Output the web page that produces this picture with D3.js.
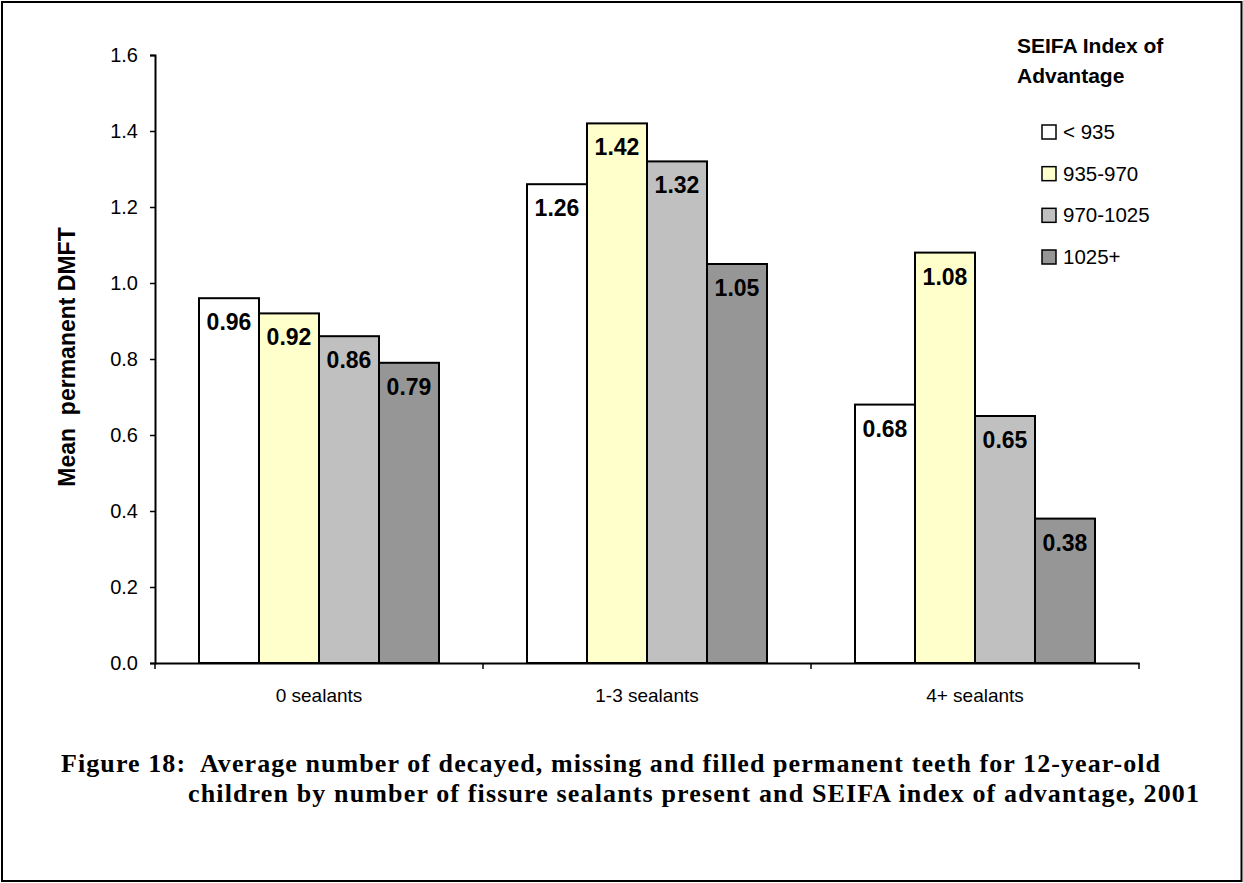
<!DOCTYPE html>
<html>
<head>
<meta charset="utf-8">
<script src="https://cdn.jsdelivr.net/npm/d3@7"></script>
<style>
  body { margin: 0; background: #fff; }
  svg { display: block; }
  text { font-family: Arial, "Liberation Sans", sans-serif; fill: #000; }
  .caption { font-family: "Liberation Serif", "Times New Roman", serif; font-weight: bold; font-size: 26px; }
</style>
</head>
<body>
<div id="chart"></div>
<script>
const categories = ['0 sealants', '1-3 sealants', '4+ sealants'];
const seriesNames = ['< 935', '935-970', '970-1025', '1025+'];
const seriesColors = ['#FFFFFF', '#FFFFCC', '#C0C0C0', '#969696'];
const under935 = [0.96, 1.26, 0.68];
const from935to970 = [0.92, 1.42, 1.08];
const from970to1025 = [0.86, 1.32, 0.65];
const over1025 = [0.79, 1.05, 0.38];
const yTicks = [0, 0.2, 0.4, 0.6, 0.8, 1.0, 1.2, 1.4, 1.6];

const seriesValues = [under935, from935to970, from970to1025, over1025];

const rows = [];
categories.forEach((c, i) => {
  seriesNames.forEach((s, j) => {
    rows.push({ category: c, series: s, value: seriesValues[j][i], color: seriesColors[j] });
  });
});

const width = 1243;
const height = 883;

const svg = d3
  .select('#chart')
  .append('svg')
  .attr('width', width)
  .attr('height', height);

// outer frame
svg
  .append('rect')
  .attr('x', 2)
  .attr('y', 2)
  .attr('width', 1239.5)
  .attr('height', 879)
  .attr('fill', 'none')
  .attr('stroke', '#000')
  .attr('stroke-width', 2);

const x0 = d3.scaleBand().domain(categories).range([155, 1139]);
const groupWidth = 240;
const x1 = d3.scaleBand().domain(seriesNames).range([0, groupWidth]);
const groupOffset = (x0.bandwidth() - groupWidth) / 2;
const y = d3.scaleLinear().domain([0, 1.6]).range([663, 55]);

// bars
svg
  .selectAll('rect.bar')
  .data(rows)
  .join('rect')
  .attr('class', 'bar')
  .attr('x', (d) => x0(d.category) + groupOffset + x1(d.series))
  .attr('y', (d) => y(d.value))
  .attr('width', x1.bandwidth())
  .attr('height', (d) => y(0) - y(d.value))
  .attr('fill', (d) => d.color)
  .attr('stroke', '#000')
  .attr('stroke-width', 2);

// value labels inside the bar tops
svg
  .selectAll('text.value')
  .data(rows)
  .join('text')
  .attr('class', 'value')
  .attr('x', (d) => x0(d.category) + groupOffset + x1(d.series) + x1.bandwidth() / 2)
  .attr('y', (d) => y(d.value) + 32)
  .attr('text-anchor', 'middle')
  .style('font-size', '23px')
  .style('font-weight', 'bold')
  .text((d) => d.value.toFixed(2));

// y axis
const yAxis = d3
  .axisLeft(y)
  .tickValues(yTicks)
  .tickSize(5)
  .tickPadding(12)
  .tickFormat(d3.format('.1f'));
const gy = svg.append('g').attr('transform', 'translate(155, 0)').call(yAxis);
gy.select('.domain').attr('stroke', '#000').attr('stroke-width', 2);
gy.selectAll('.tick line').attr('stroke', '#000').attr('stroke-width', 1.5);
gy.selectAll('.tick text')
  .style('font-size', '20px')
  .style('font-family', 'Arial, "Liberation Sans", sans-serif')
  .attr('fill', '#000');

// x axis: labels at band centres, ticks at band edges
const xAxis = d3.axisBottom(x0).tickSize(0).tickPadding(0);
const gx = svg.append('g').attr('transform', 'translate(0, ' + y(0) + ')').call(xAxis);
gx.select('.domain').attr('stroke', '#000').attr('stroke-width', 2);
gx.selectAll('.tick text')
  .attr('y', 39)
  .attr('dy', 0)
  .style('font-size', '19px')
  .style('font-family', 'Arial, "Liberation Sans", sans-serif')
  .attr('fill', '#000');
const edges = categories.map((c) => x0(c)).concat([x0(categories[categories.length - 1]) + x0.bandwidth()]);
gx.selectAll('line.edge')
  .data(edges)
  .join('line')
  .attr('class', 'edge')
  .attr('x1', (d) => d)
  .attr('x2', (d) => d)
  .attr('y1', 0)
  .attr('y2', 6)
  .attr('stroke', '#000')
  .attr('stroke-width', 1.5);

// y axis title
svg
  .append('text')
  .attr('transform', 'translate(75, 357) rotate(-90)')
  .attr('text-anchor', 'middle')
  .style('font-size', '23px')
  .style('font-weight', 'bold')
  .style('white-space', 'pre')
  .text('Mean  permanent DMFT');

// legend
const legend = svg.append('g');
legend
  .append('text')
  .attr('x', 1017)
  .attr('y', 53)
  .style('font-size', '21px')
  .style('font-weight', 'bold')
  .text('SEIFA Index of');
legend
  .append('text')
  .attr('x', 1017)
  .attr('y', 83)
  .style('font-size', '21px')
  .style('font-weight', 'bold')
  .text('Advantage');

const legendY = d3.scalePoint().domain(seriesNames).range([132, 257]);
const items = legend
  .selectAll('g.item')
  .data(seriesNames)
  .join('g')
  .attr('class', 'item')
  .attr('transform', (d) => 'translate(1042, ' + legendY(d) + ')');
items
  .append('rect')
  .attr('x', 0)
  .attr('y', -7)
  .attr('width', 14)
  .attr('height', 14)
  .attr('fill', (d, i) => seriesColors[i])
  .attr('stroke', '#000')
  .attr('stroke-width', 1.5);
items
  .append('text')
  .attr('x', 21)
  .attr('y', 7)
  .style('font-size', '20.5px')
  .text((d) => d);

// caption
svg
  .append('text')
  .attr('class', 'caption')
  .attr('x', 61)
  .attr('y', 772)
  .attr('textLength', 1099)
  .attr('lengthAdjust', 'spacing')
  .style('white-space', 'pre')
  .text('Figure 18:  Average number of decayed, missing and filled permanent teeth for 12-year-old');
svg
  .append('text')
  .attr('class', 'caption')
  .attr('x', 188)
  .attr('y', 802)
  .attr('textLength', 1011)
  .attr('lengthAdjust', 'spacing')
  .text('children by number of fissure sealants present and SEIFA index of advantage, 2001');
</script>
</body>
</html>
